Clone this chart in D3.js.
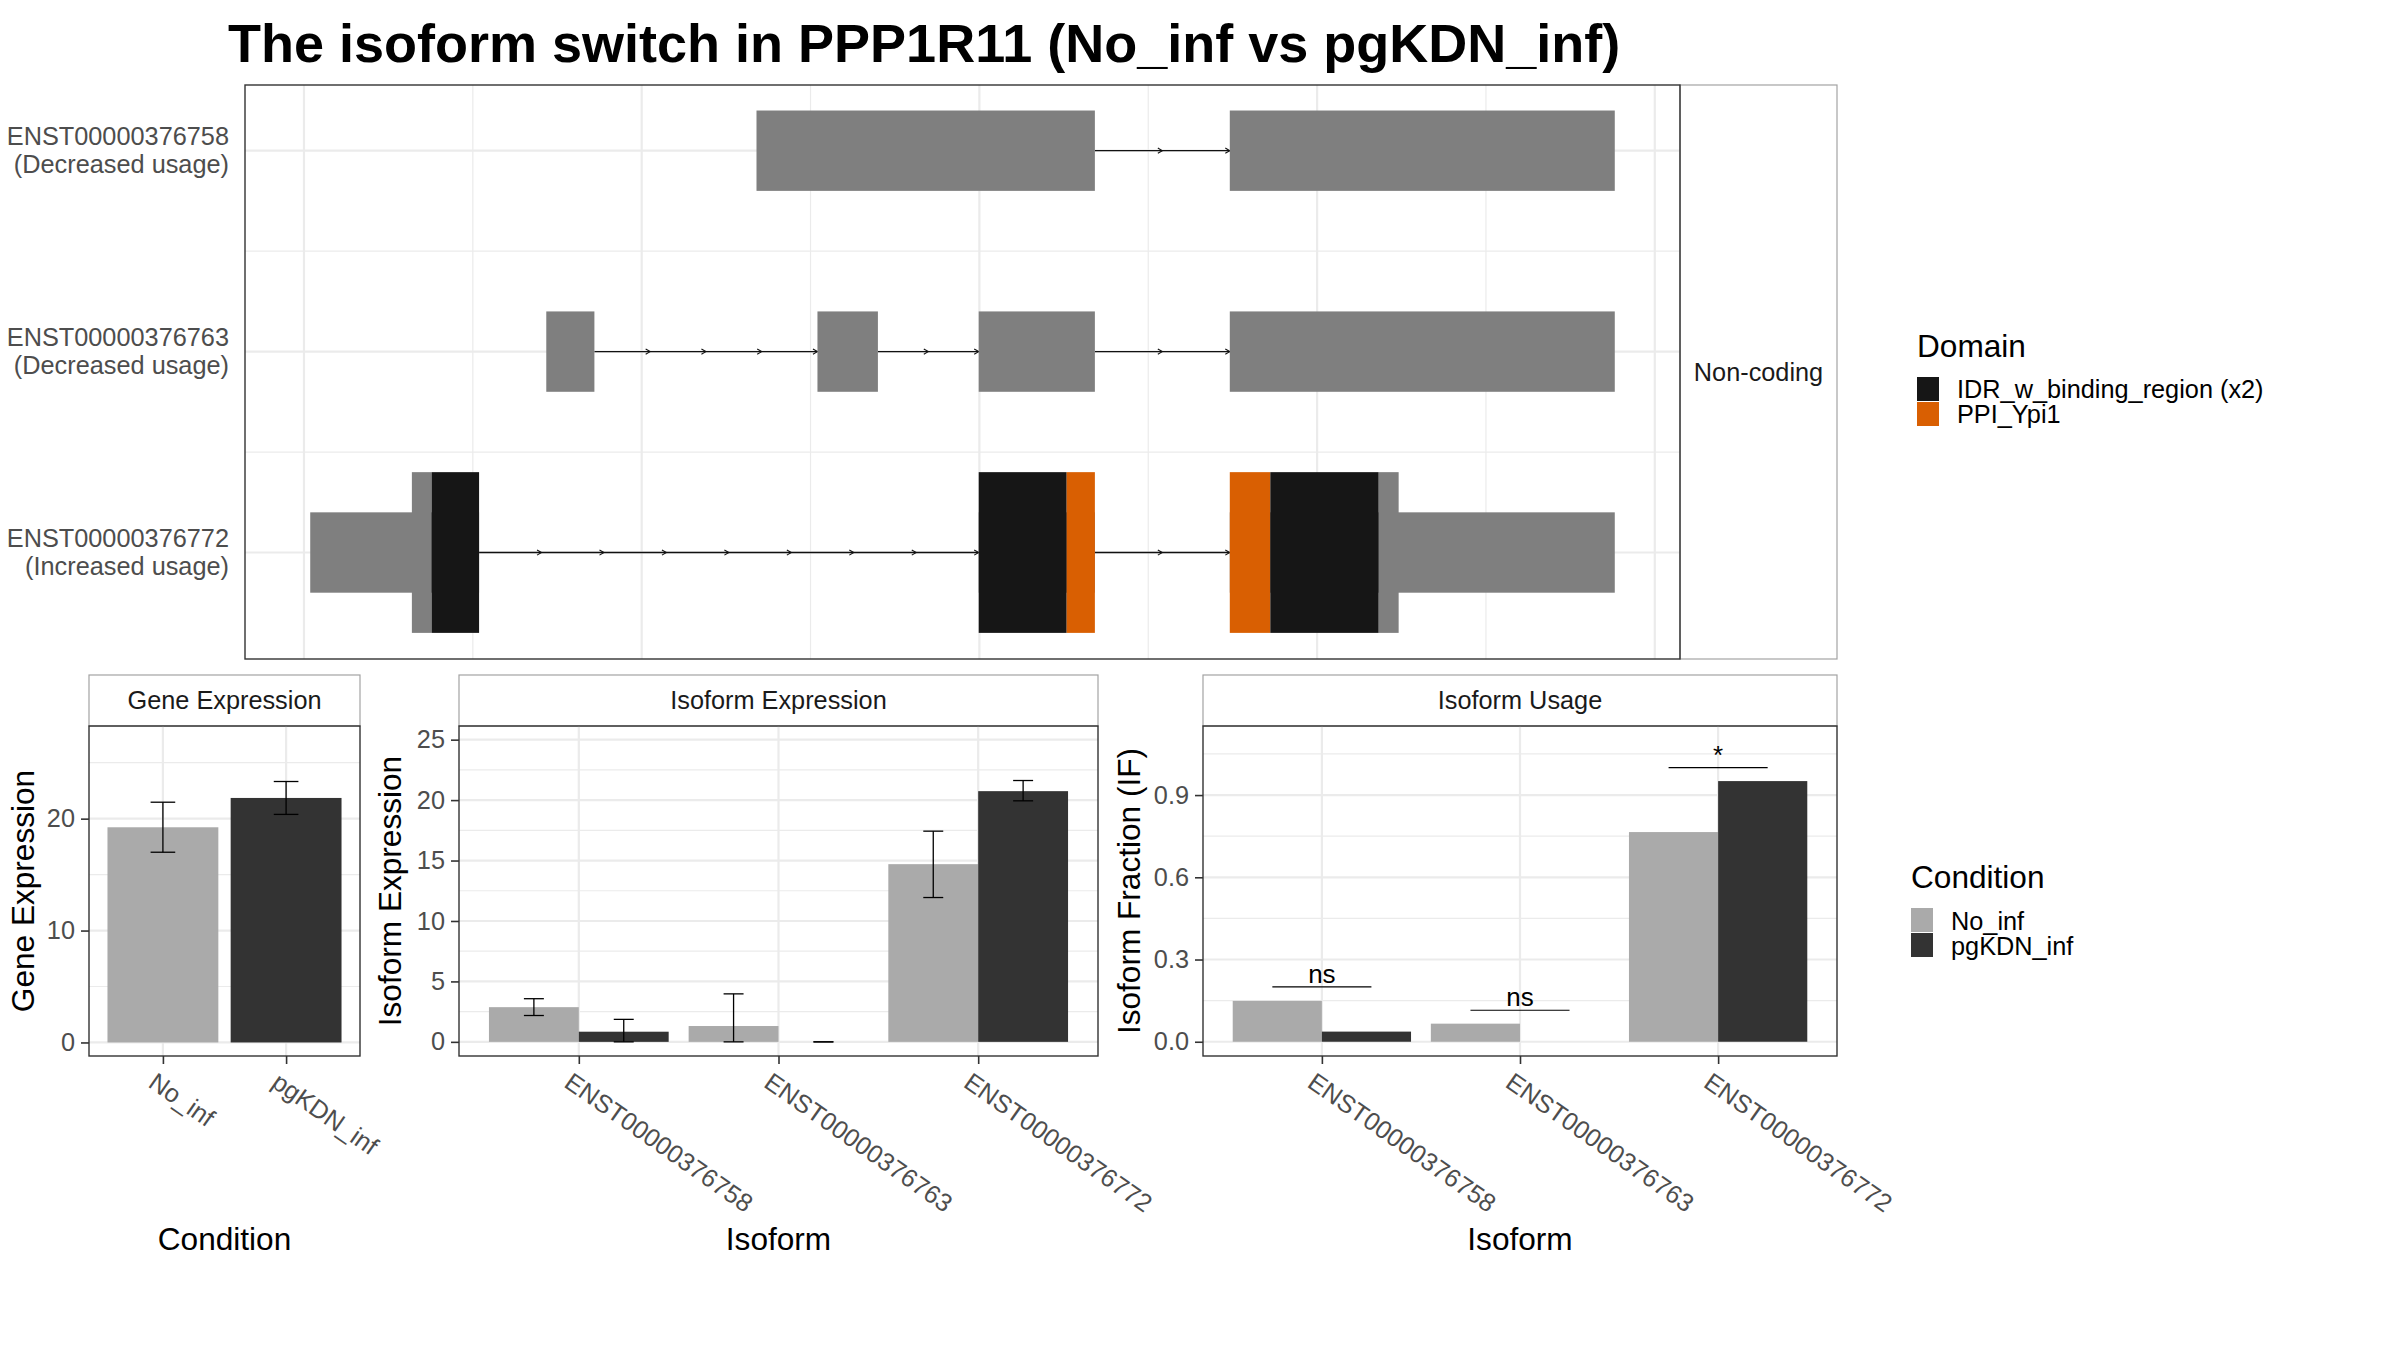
<!DOCTYPE html>
<html>
<head>
<meta charset="utf-8">
<style>
  body { margin: 0; background: #ffffff; }
</style>
</head>
<body>
<script src="https://d3js.org/d3.v7.min.js"></script>
<script>
  var w = 2400;
  var h = 1350;
  var font = "'Liberation Sans', Arial, Helvetica, sans-serif";
  var fs_small = 25.3;
  var fs_big = 31.6;

  //Transcript structures (positions in kb along the plotted region)
  var isoforms = ["ENST00000376758", "ENST00000376763", "ENST00000376772"];
  var isoform_notes = ["(Decreased usage)", "(Decreased usage)", "(Increased usage)"];
  // [row, start, end]
  var exon_datas = [
    [0, 2.680, 4.684], [0, 5.483, 7.763],
    [1, 1.435, 1.720], [1, 3.041, 3.399], [1, 3.996, 4.684], [1, 5.483, 7.763],
    [2, 0.037, 1.037], [2, 3.996, 4.684], [2, 5.483, 7.763]];
  // coding parts: [row, start, end, domain ("" = no domain)]
  var cds_datas = [
    [2, 0.639, 0.756, ""],
    [2, 0.756, 1.037, "IDR_w_binding_region (x2)"],
    [2, 3.996, 4.517, "IDR_w_binding_region (x2)"],
    [2, 4.517, 4.684, "PPI_Ypi1"],
    [2, 5.483, 5.723, "PPI_Ypi1"],
    [2, 5.723, 6.365, "IDR_w_binding_region (x2)"],
    [2, 6.365, 6.483, ""]];
  var domains = ["IDR_w_binding_region (x2)", "PPI_Ypi1"];
  var coding_class = "Non-coding";

  //Expression data
  var conditions = ["No_inf", "pgKDN_inf"];
  var gene_exp = [19.23, 21.85];
  var gene_exp_low = [17.00, 20.38];
  var gene_exp_high = [21.47, 23.32];
  var iso_exp = [[2.87, 0.84], [1.31, 0.00], [14.70, 20.74]];
  var iso_exp_low = [[2.18, 0.00], [0.00, 0.00], [11.94, 19.94]];
  var iso_exp_high = [[3.57, 1.86], [3.97, 0.00], [17.43, 21.62]];
  var iso_usage = [[0.149, 0.037], [0.066, 0.000], [0.765, 0.951]];
  var sig_y = [0.200, 0.115, 1.000];
  var sig_labels = ["ns", "ns", "*"];

  var domain_color = d3.scaleOrdinal().domain(domains).range(["#161616", "#d95f02"]);
  var cond_color = d3.scaleOrdinal().domain(conditions).range(["#aaaaaa", "#333333"]);
  var exon_fill = "#7f7f7f";
  var grid_col = "#ebebeb";

  var svg = d3.select("body")
  .append("svg")
  .attr("width", w)
  .attr("height", h)
  .style("display", "block")
  .style("background", "#ffffff");

  //Title
  svg.append("text")
  .attr("x", 228)
  .attr("y", 61.5)
  .text("The isoform switch in PPP1R11 (No_inf vs pgKDN_inf)")
  .attr("font-family", font)
  .attr("font-weight", "bold")
  .attr("font-size", 54)
  .attr("fill", "#000000");

  function minor_between(t){
    var m = [];
    for (var i = 0; i < t.length - 1; i++) m.push((t[i] + t[i+1]) / 2);
    return m;
  }
  function minor_ext(t, dom){
    var step = t[1] - t[0];
    var m = [t[0] - step/2].concat(minor_between(t), [t[t.length-1] + step/2]);
    return m.filter(function(v){ return v >= dom[0] && v <= dom[1]; });
  }

  //Transcript panel
  var tp_left = 245, tp_right = 1680, tp_top = 85, tp_bottom = 659, strip_right = 1837;
  var ex_min = d3.min(exon_datas, function(d){ return d[1]; });
  var ex_max = d3.max(exon_datas, function(d){ return d[2]; });
  var ex_pad = (ex_max - ex_min) * 0.05;
  var x_tx = d3.scaleLinear().domain([ex_min - ex_pad, ex_max + ex_pad]).range([tp_left, tp_right]);
  var y_tx = d3.scaleLinear().domain([-0.327, 2.53]).range([tp_top, tp_bottom]);

  var tx_major = x_tx.ticks(5);
  var tx_minor = minor_between(tx_major);
  var row_major = d3.range(isoforms.length);
  var row_minor = minor_between(row_major);

  var tx_grid = svg.append("g");
  tx_grid.selectAll(".vminor").data(tx_minor).enter().append("line")
  .attr("x1", function(d){ return x_tx(d); }).attr("x2", function(d){ return x_tx(d); })
  .attr("y1", tp_top).attr("y2", tp_bottom)
  .attr("stroke", grid_col).attr("stroke-width", 1.2);
  tx_grid.selectAll(".hminor").data(row_minor).enter().append("line")
  .attr("x1", tp_left).attr("x2", tp_right)
  .attr("y1", function(d){ return y_tx(d); }).attr("y2", function(d){ return y_tx(d); })
  .attr("stroke", grid_col).attr("stroke-width", 1.2);
  tx_grid.selectAll(".vmajor").data(tx_major).enter().append("line")
  .attr("x1", function(d){ return x_tx(d); }).attr("x2", function(d){ return x_tx(d); })
  .attr("y1", tp_top).attr("y2", tp_bottom)
  .attr("stroke", grid_col).attr("stroke-width", 2.2);
  tx_grid.selectAll(".hmajor").data(row_major).enter().append("line")
  .attr("x1", tp_left).attr("x2", tp_right)
  .attr("y1", function(d){ return y_tx(d); }).attr("y2", function(d){ return y_tx(d); })
  .attr("stroke", grid_col).attr("stroke-width", 2.2);

  //Introns with direction arrows
  var intron_datas = [];
  isoforms.forEach(function(iso, r){
    var ex = exon_datas.filter(function(d){ return d[0] === r; })
    .sort(function(a, b){ return a[1] - b[1]; });
    for (var i = 0; i < ex.length - 1; i++) intron_datas.push([r, ex[i][2], ex[i+1][1]]);
  });
  var arrow_datas = [];
  intron_datas.forEach(function(d){
    var x1 = x_tx(d[1]), x2 = x_tx(d[2]);
    var n = Math.max(1, Math.round((x2 - x1) / 60));
    for (var k = 1; k <= n; k++) arrow_datas.push([d[0], x1 + (x2 - x1) * k / n]);
  });
  svg.append("g").selectAll("line").data(intron_datas).enter().append("line")
  .attr("x1", function(d){ return x_tx(d[1]); })
  .attr("x2", function(d){ return x_tx(d[2]); })
  .attr("y1", function(d){ return y_tx(d[0]); })
  .attr("y2", function(d){ return y_tx(d[0]); })
  .attr("stroke", "#111111").attr("stroke-width", 1.3);
  svg.append("g").selectAll("path").data(arrow_datas).enter().append("path")
  .attr("d", function(d){
    var y = y_tx(d[0]);
    return "M" + (d[1] - 4.5) + "," + (y - 2.6) + "L" + d[1] + "," + y + "L" + (d[1] - 4.5) + "," + (y + 2.6);
  })
  .attr("fill", "none").attr("stroke", "#111111").attr("stroke-width", 1.1);

  //Exons (UTR / non-coding height) and coding parts (full height)
  svg.append("g").selectAll("rect").data(exon_datas).enter().append("rect")
  .attr("x", function(d){ return x_tx(d[1]); })
  .attr("width", function(d){ return x_tx(d[2]) - x_tx(d[1]); })
  .attr("y", function(d){ return y_tx(d[0] - 0.2); })
  .attr("height", function(d){ return y_tx(d[0] + 0.2) - y_tx(d[0] - 0.2); })
  .attr("fill", exon_fill);
  svg.append("g").selectAll("rect").data(cds_datas).enter().append("rect")
  .attr("x", function(d){ return x_tx(d[1]); })
  .attr("width", function(d){ return x_tx(d[2]) - x_tx(d[1]); })
  .attr("y", function(d){ return y_tx(d[0] - 0.4); })
  .attr("height", function(d){ return y_tx(d[0] + 0.4) - y_tx(d[0] - 0.4); })
  .attr("fill", function(d){ return d[3] === "" ? exon_fill : domain_color(d[3]); });

  //Row labels
  var row_labels = svg.append("g").selectAll("text").data(isoforms).enter().append("text")
  .attr("x", tp_left - 16)
  .attr("y", function(d, i){ return y_tx(i) - 5.5; })
  .attr("text-anchor", "end")
  .attr("font-family", font).attr("font-size", fs_small).attr("fill", "#4d4d4d");
  row_labels.append("tspan").attr("x", tp_left - 16).text(function(d){ return d; });
  row_labels.append("tspan").attr("x", tp_left - 16).attr("dy", 28)
  .text(function(d, i){ return isoform_notes[i]; });

  //Facet strip and panel border
  svg.append("rect")
  .attr("x", tp_right).attr("y", tp_top)
  .attr("width", strip_right - tp_right).attr("height", tp_bottom - tp_top)
  .attr("fill", "#ffffff").attr("stroke", "#a3a3a3").attr("stroke-width", 1.2);
  svg.append("text")
  .attr("x", (tp_right + strip_right) / 2).attr("y", (tp_top + tp_bottom) / 2)
  .attr("dy", "0.35em").attr("text-anchor", "middle")
  .text(coding_class)
  .attr("font-family", font).attr("font-size", fs_small).attr("fill", "#1a1a1a");
  svg.append("rect")
  .attr("x", tp_left).attr("y", tp_top)
  .attr("width", tp_right - tp_left).attr("height", tp_bottom - tp_top)
  .attr("fill", "none").attr("stroke", "#333333").attr("stroke-width", 1.4);

  //Domain legend
  var dom_leg = svg.append("g").attr("transform", "translate(1917,357)");
  dom_leg.append("text").text("Domain")
  .attr("font-family", font).attr("font-size", fs_big).attr("fill", "#000000");
  dom_leg.selectAll("rect").data(domains).enter().append("rect")
  .attr("x", 0).attr("y", function(d, i){ return 20 + i * 25; })
  .attr("width", 22).attr("height", 24)
  .attr("fill", function(d){ return domain_color(d); });
  dom_leg.selectAll(".lab").data(domains).enter().append("text")
  .attr("x", 40).attr("y", function(d, i){ return 40.5 + i * 25.5; })
  .text(function(d){ return d; })
  .attr("font-family", font).attr("font-size", fs_small).attr("fill", "#000000");

  //Bottom panels
  var strip_top = 675, bp_top = 726, bp_bottom = 1056;

  function style_axis(a){
    a.attr("font-family", font).attr("font-size", fs_small);
    a.select(".domain").remove();
    a.selectAll(".tick line").attr("stroke", "#333333").attr("stroke-width", 1.6);
    a.selectAll(".tick text").attr("fill", "#4d4d4d");
  }

  function bar_panel(left, right, strip_label, y_domain, y_ticks, y_fmt, y_title, y_title_x, x_title, cats){
    var x = d3.scalePoint().domain(cats).range([left, right]).padding(0.6);
    var y = d3.scaleLinear().domain(y_domain).range([bp_bottom, bp_top]);
    var g = svg.append("g");

    g.append("rect")
    .attr("x", left).attr("y", strip_top)
    .attr("width", right - left).attr("height", bp_top - strip_top)
    .attr("fill", "#ffffff").attr("stroke", "#a3a3a3").attr("stroke-width", 1.2);
    g.append("text")
    .attr("x", (left + right) / 2).attr("y", (strip_top + bp_top) / 2)
    .attr("dy", "0.35em").attr("text-anchor", "middle")
    .text(strip_label)
    .attr("font-family", font).attr("font-size", fs_small).attr("fill", "#1a1a1a");

    g.selectAll(".hminor").data(minor_ext(y_ticks, y_domain)).enter().append("line")
    .attr("x1", left).attr("x2", right)
    .attr("y1", function(d){ return y(d); }).attr("y2", function(d){ return y(d); })
    .attr("stroke", grid_col).attr("stroke-width", 1.2);
    g.selectAll(".hmajor").data(y_ticks).enter().append("line")
    .attr("x1", left).attr("x2", right)
    .attr("y1", function(d){ return y(d); }).attr("y2", function(d){ return y(d); })
    .attr("stroke", grid_col).attr("stroke-width", 2.2);
    g.selectAll(".vmajor").data(cats).enter().append("line")
    .attr("x1", function(d){ return x(d); }).attr("x2", function(d){ return x(d); })
    .attr("y1", bp_top).attr("y2", bp_bottom)
    .attr("stroke", grid_col).attr("stroke-width", 2.2);

    var marks = g.append("g");

    g.append("rect")
    .attr("x", left).attr("y", bp_top)
    .attr("width", right - left).attr("height", bp_bottom - bp_top)
    .attr("fill", "none").attr("stroke", "#333333").attr("stroke-width", 1.4);

    var ya = g.append("g").attr("transform", "translate(" + left + ",0)")
    .call(d3.axisLeft(y).tickValues(y_ticks).tickSize(8).tickPadding(6).tickFormat(y_fmt));
    style_axis(ya);
    var xa = g.append("g").attr("transform", "translate(0," + bp_bottom + ")")
    .call(d3.axisBottom(x).tickSize(8));
    style_axis(xa);
    xa.selectAll(".tick text")
    .attr("x", -6).attr("y", 15).attr("dy", "0.72em")
    .attr("text-anchor", "start")
    .attr("transform", "rotate(35,-6,15)");

    g.append("text")
    .attr("transform", "translate(" + y_title_x + "," + ((bp_top + bp_bottom) / 2) + ") rotate(-90)")
    .attr("text-anchor", "middle")
    .text(y_title)
    .attr("font-family", font).attr("font-size", fs_big).attr("fill", "#000000");
    g.append("text")
    .attr("x", (left + right) / 2).attr("y", 1250)
    .attr("text-anchor", "middle")
    .text(x_title)
    .attr("font-family", font).attr("font-size", fs_big).attr("fill", "#000000");

    return {x: x, y: y, marks: marks};
  }

  function err_bars(marks, rows, cap){
    var eb = marks.selectAll(".eb").data(rows).enter().append("g");
    eb.append("line")
    .attr("x1", function(d){ return d.cx; }).attr("x2", function(d){ return d.cx; })
    .attr("y1", function(d){ return d.y_low; }).attr("y2", function(d){ return d.y_high; });
    eb.append("line")
    .attr("x1", function(d){ return d.cx - cap / 2; }).attr("x2", function(d){ return d.cx + cap / 2; })
    .attr("y1", function(d){ return d.y_low; }).attr("y2", function(d){ return d.y_low; });
    eb.append("line")
    .attr("x1", function(d){ return d.cx - cap / 2; }).attr("x2", function(d){ return d.cx + cap / 2; })
    .attr("y1", function(d){ return d.y_high; }).attr("y2", function(d){ return d.y_high; });
    eb.selectAll("line").attr("stroke", "#000000").attr("stroke-width", 1.3);
  }

  //Gene expression
  var gp = bar_panel(89, 360, "Gene Expression", [-1.21, 28.28], [0, 10, 20], d3.format("d"),
                     "Gene Expression", 34, "Condition", conditions);
  var g_step = gp.x.step();
  var gene_rows = conditions.map(function(c, i){
    return {cond: c, cx: gp.x(c), y_val: gp.y(gene_exp[i]),
            y_low: gp.y(gene_exp_low[i]), y_high: gp.y(gene_exp_high[i])};
  });
  gp.marks.selectAll("rect").data(gene_rows).enter().append("rect")
  .attr("x", function(d){ return d.cx - 0.45 * g_step; })
  .attr("width", 0.9 * g_step)
  .attr("y", function(d){ return d.y_val; })
  .attr("height", function(d){ return gp.y(0) - d.y_val; })
  .attr("fill", function(d){ return cond_color(d.cond); });
  err_bars(gp.marks, gene_rows, 0.2 * g_step);

  //Isoform expression
  var ip = bar_panel(459, 1098, "Isoform Expression", [-1.17, 26.13], [0, 5, 10, 15, 20, 25], d3.format("d"),
                     "Isoform Expression", 401, "Isoform", isoforms);
  var i_step = ip.x.step();
  var iso_rows = [];
  isoforms.forEach(function(iso, i){
    conditions.forEach(function(c, j){
      iso_rows.push({cond: c, cx: ip.x(iso) + (j - 0.5) * 0.45 * i_step,
                     y_val: ip.y(iso_exp[i][j]),
                     y_low: ip.y(iso_exp_low[i][j]), y_high: ip.y(iso_exp_high[i][j])});
    });
  });
  ip.marks.selectAll("rect").data(iso_rows).enter().append("rect")
  .attr("x", function(d){ return d.cx - 0.225 * i_step; })
  .attr("width", 0.45 * i_step)
  .attr("y", function(d){ return d.y_val; })
  .attr("height", function(d){ return ip.y(0) - d.y_val; })
  .attr("fill", function(d){ return cond_color(d.cond); });
  err_bars(ip.marks, iso_rows, 0.1 * i_step);

  //Isoform usage
  var up = bar_panel(1203, 1837, "Isoform Usage", [-0.052, 1.152], [0, 0.3, 0.6, 0.9], d3.format(".1f"),
                     "Isoform Fraction (IF)", 1140, "Isoform", isoforms);
  var u_step = up.x.step();
  var use_rows = [];
  isoforms.forEach(function(iso, i){
    conditions.forEach(function(c, j){
      use_rows.push({cond: c, cx: up.x(iso) + (j - 0.5) * 0.45 * u_step, y_val: up.y(iso_usage[i][j])});
    });
  });
  up.marks.selectAll("rect").data(use_rows).enter().append("rect")
  .attr("x", function(d){ return d.cx - 0.225 * u_step; })
  .attr("width", 0.45 * u_step)
  .attr("y", function(d){ return d.y_val; })
  .attr("height", function(d){ return up.y(0) - d.y_val; })
  .attr("fill", function(d){ return cond_color(d.cond); });

  //Significance annotations
  var sig = up.marks.selectAll(".sig").data(isoforms).enter().append("g");
  sig.append("line")
  .attr("x1", function(d){ return up.x(d) - 0.25 * u_step; })
  .attr("x2", function(d){ return up.x(d) + 0.25 * u_step; })
  .attr("y1", function(d, i){ return up.y(sig_y[i]); })
  .attr("y2", function(d, i){ return up.y(sig_y[i]); })
  .attr("stroke", "#000000").attr("stroke-width", 1.2);
  sig.append("text")
  .attr("x", function(d){ return up.x(d); })
  .attr("y", function(d, i){ return up.y(sig_y[i]) - 4; })
  .attr("text-anchor", "middle")
  .text(function(d, i){ return sig_labels[i]; })
  .attr("font-family", font).attr("font-size", 26).attr("fill", "#000000");

  //Condition legend
  var cond_leg = svg.append("g").attr("transform", "translate(1911,888)");
  cond_leg.append("text").text("Condition")
  .attr("font-family", font).attr("font-size", fs_big).attr("fill", "#000000");
  cond_leg.selectAll("rect").data(conditions).enter().append("rect")
  .attr("x", 0).attr("y", function(d, i){ return 20 + i * 25; })
  .attr("width", 22).attr("height", 24)
  .attr("fill", function(d){ return cond_color(d); });
  cond_leg.selectAll(".lab").data(conditions).enter().append("text")
  .attr("x", 40).attr("y", function(d, i){ return 42 + i * 24.5; })
  .text(function(d){ return d; })
  .attr("font-family", font).attr("font-size", fs_small).attr("fill", "#000000");
</script>
</body>
</html>
